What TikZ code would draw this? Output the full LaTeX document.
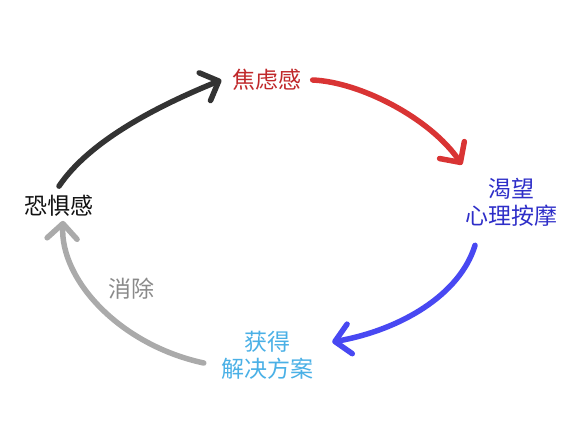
\documentclass[tikz,border=0pt]{standalone}
\usepackage{fontspec}
\usepackage{xcolor}
\usepackage{tikz}
\newfontfamily\cjk{Noto Sans CJK SC}
\usetikzlibrary{positioning,arrows.meta}

\definecolor{fearblack}{HTML}{111111}
\definecolor{penblack}{HTML}{333333}
\definecolor{anxred}{HTML}{C0282A}
\definecolor{penred}{HTML}{D93434}
\definecolor{craveblue}{HTML}{2E2EC8}
\definecolor{penblue}{HTML}{4848F2}
\definecolor{solveblue}{HTML}{4AB0E6}
\definecolor{pengray}{HTML}{AAAAAA}
\definecolor{erasegray}{HTML}{8A8A8A}

\begin{document}
\begin{tikzpicture}[
    x=1pt, y=-1pt,
    stage/.style={font=\cjk\fontsize{23}{27}\selectfont, align=center, inner sep=1pt},
    pen/.style={line width=5.5pt, line cap=round, line join=round,
        -{Straight Barb[length=15pt, width=30pt, round]}}
]
    \useasboundingbox (0,0) rectangle (576,432);

    \node[stage, text=anxred] (anxiety) at (267,80) {焦虑感};
    \node[stage, text=craveblue] (crave) at (511,202) {渴望\\心理按摩};
    \node[stage, text=solveblue] (solution) at (267,355) {获得\\解决方案};
    \node[stage, text=fearblack] (fear) at (59,206) {恐惧感};
    \node[stage, text=erasegray] (erase) at (131,289) {消除};

    \draw[pen, penblack] ([yshift=8pt]fear.north) .. controls (90,140) and (160,105) .. ([xshift=-10pt]anxiety.west);
    \draw[pen, penred] ([xshift=10pt]anxiety.east) .. controls (360,82) and (430,118) .. ([yshift=12pt,xshift=-49pt]crave.north);
    \draw[pen, penblue] ([yshift=-18pt,xshift=-36pt]crave.south) .. controls (460,295) and (400,330) .. ([xshift=18pt,yshift=13pt]solution.east);
    \draw[pen, pengray] ([xshift=-16pt,yshift=-8pt]solution.west) .. controls (120,345) and (60,280) .. ([xshift=4pt,yshift=-3pt]fear.south);
\end{tikzpicture}
\end{document}
